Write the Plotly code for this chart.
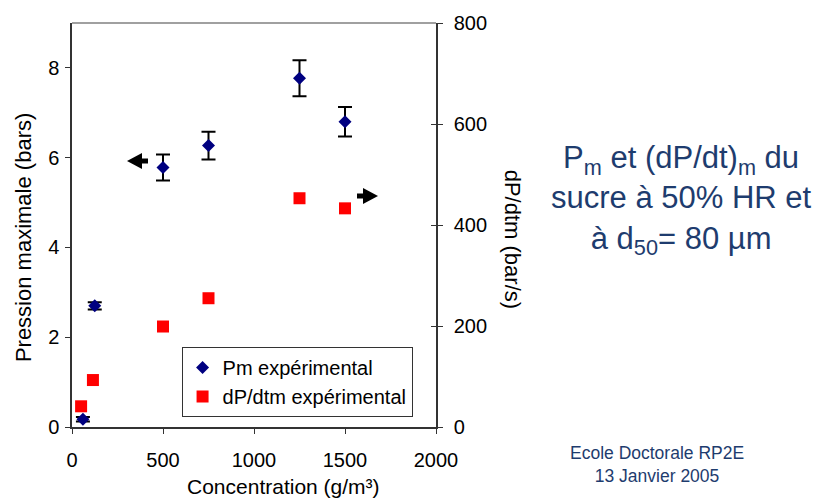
import plotly.graph_objects as go

# Data
pm_x = [60, 125, 500, 750, 1250, 1500]
pm_y = [0.17, 2.70, 5.78, 6.27, 7.77, 6.80]
pm_err = [0.05, 0.08, 0.29, 0.31, 0.40, 0.33]

dp_x = [50, 115, 500, 750, 1250, 1500]
dp_y = [41, 93, 199, 255, 453, 433]

x_ticks = [0, 500, 1000, 1500, 2000]
y_ticks = [0, 2, 4, 6, 8]
y2_ticks = [0, 200, 400, 600, 800]

FONT = "Arial, Liberation Sans, sans-serif"
TXT_BLUE = "#1E3C6E"

fig = go.Figure()
fig.add_trace(go.Scatter(
    x=pm_x, y=pm_y, mode="markers", name="Pm expérimental",
    marker=dict(symbol="diamond", size=10, color="#000080"),
    error_y=dict(type="data", array=pm_err, color="black", thickness=2, width=7),
    yaxis="y"))
fig.add_trace(go.Scatter(
    x=dp_x, y=dp_y, mode="markers", name="dP/dtm expérimental",
    marker=dict(symbol="square", size=12, color="#FF0000"),
    yaxis="y2"))

axis_common = dict(showgrid=False, zeroline=False, showline=True, linecolor="#333333",
                   linewidth=1.5, ticks="outside", ticklen=5, tickcolor="#333333",
                   tickfont=dict(size=20, color="black", family=FONT))

fig.update_layout(
    width=822, height=500,
    margin=dict(l=72, r=386, t=23, b=73),
    paper_bgcolor="white", plot_bgcolor="white",
    font=dict(family=FONT, color="black"),
    xaxis=dict(range=[0, 2000], tickvals=x_ticks, ticklabelstandoff=9, **axis_common),
    yaxis=dict(range=[0, 9], tickvals=y_ticks, ticklabelstandoff=2, **axis_common),
    yaxis2=dict(range=[0, 800], tickvals=y2_ticks, overlaying="y", side="right",
                ticklabelstandoff=7, **axis_common),
    yaxis3=dict(range=[0, 800], tickvals=y2_ticks, overlaying="y", side="right",
                showgrid=False, zeroline=False, showline=False, ticks="inside", ticklen=5,
                tickcolor="#333333", showticklabels=False),
    showlegend=True,
    legend=dict(x=0.301, y=0.198, xanchor="left", yanchor="top",
                bgcolor="white", bordercolor="#333333", borderwidth=1,
                font=dict(size=20, family=FONT, color="black")),
)
# invisible trace to activate the cross-tick axis
fig.add_trace(go.Scatter(x=[None], y=[None], yaxis="y3", showlegend=False, hoverinfo="skip"))

# top border of plot area
fig.add_shape(type="line", xref="paper", yref="paper", x0=0, x1=1, y0=1, y1=1,
              line=dict(color="#808080", width=1.5))

ann = [
    dict(text="Pression maximale (bars)", x=-0.133, y=0.469, textangle=-90,
         font=dict(size=22, family=FONT, color="black")),
    dict(text="dP/dtm (bar/s)", x=1.210, y=0.465, textangle=90,
         font=dict(size=22, family=FONT, color="black")),
    dict(text="Concentration (g/m³)", x=0.581, y=-0.1485,
         font=dict(size=21, family=FONT, color="black")),
    dict(text="P<sub>m</sub> et (dP/dt)<sub>m</sub> du<br>sucre à 50% HR et<br>à d<sub>50</sub>= 80 µm",
         x=1.674, y=0.562, align="center",
         font=dict(size=31, family=FONT, color=TXT_BLUE)),
    dict(text="Ecole Doctorale RP2E<br>13 Janvier 2005", x=1.606, y=-0.094, align="center",
         font=dict(size=17.5, family=FONT, color=TXT_BLUE)),
]
for a in ann:
    fig.add_annotation(xref="paper", yref="paper", xanchor="center", yanchor="middle",
                       showarrow=False, **a)

# direction arrows (pixel-sized paths anchored in plot fractions)
def px2paper(px, py):
    return (px - 72) / 364.0, (427 - py) / 404.0

for tip, sign in (((127, 161), 1), ((378, 196), -1)):
    ax_, ay_ = px2paper(*tip)
    s = sign
    path = (f"M0,0 L{15*s},8 L{15*s},2.5 L{21*s},2.5 L{21*s},-2.5 L{15*s},-2.5 L{15*s},-8 Z")
    fig.add_shape(type="path", xref="paper", yref="paper",
                  xsizemode="pixel", ysizemode="pixel", xanchor=ax_, yanchor=ay_,
                  path=path, fillcolor="black", line=dict(width=0))

fig.write_html("out.html")
